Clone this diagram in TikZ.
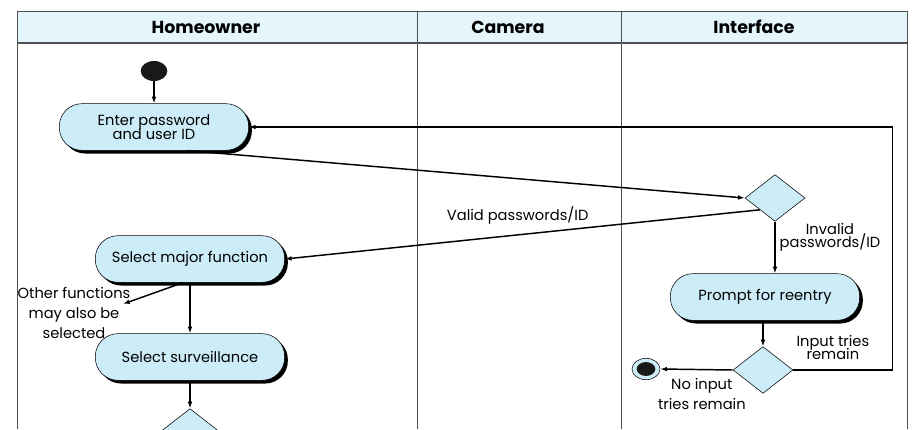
\documentclass[tikz,border=0pt]{standalone}
\usepackage{fontspec}
\setmainfont{Poppins}
\usetikzlibrary{positioning, arrows.meta, calc, shapes.geometric, shadows}

\definecolor{lanehead}{RGB}{228,245,251}
\definecolor{actfill}{RGB}{204,236,248}
\definecolor{laneline}{RGB}{80,80,80}

\begin{document}
\begin{tikzpicture}[
  x=0.75pt, y=-0.75pt,
  font=\fontsize{11}{13}\selectfont,
  activity/.style={draw=black, fill=actfill, rounded corners=17pt, align=center,
    minimum width=142pt, minimum height=35pt, inner sep=2pt,
    drop shadow={shadow xshift=2.4pt, shadow yshift=-2.4pt, fill=black, opacity=1}},
  decision/.style={diamond, draw=black, fill=actfill, inner sep=0pt,
    minimum width=45pt, minimum height=35pt},
  flow/.style={-{Latex[length=5pt, width=3.5pt]}, line width=1.1pt},
  lanetitle/.style={font=\bfseries\fontsize{13}{15}\selectfont},
  lbl/.style={align=center, inner sep=1pt}
]
\clip (0,0) rectangle (922,429);

% swimlanes
\fill[lanehead] (17,11) rectangle (907,43);
\draw[laneline] (17,11) -- (907,11);
\draw[laneline, line width=0.8pt] (17,43) -- (907,43);
\foreach \lx in {17,417,621,907}
  \draw[laneline] (\lx,11) -- (\lx,429);
\node[lanetitle] (home) at (206,27) {Homeowner};
\node[lanetitle] (cam) at (508,27) {Camera};
\node[lanetitle] (iface) at (754,27) {Interface};

% activities
\node[ellipse, fill=black!90, minimum width=20pt, minimum height=15pt, inner sep=0pt] (start) at (154,71) {};
\node[activity] (enter) at (154,127) {Enter password\\[-3pt]and user ID};
\node[activity] (select) at (190,259) {Select major function};
\node[activity] (surveil) at (190,357) {Select surveillance};
\node[activity] (prompt) at (765,297) {Prompt for reentry};

\node[decision] (d1) at (775,198) {};
\node[decision] (d2) at (763,370) {};
\node[decision] (d3) at (190,432) {};

\node[ellipse, draw=black, fill=actfill, minimum width=21pt, minimum height=16pt, inner sep=0pt] (finish) at (646,369) {};
\fill[black!90] (finish.center) ellipse [x radius=7pt, y radius=5.2pt];

\coordinate (otherend) at (123,304);
\node[lbl] (othertxt) at (74,313) {Other functions\\[2pt]may also be\\[2pt]selected};

% flows
\draw[flow] (start) -- (enter);
\draw[flow] (enter.-35) -- (d1.west);
\draw[flow] (d1.south west) -- (select.east)
  node[pos=0.51, above=4pt] {Valid passwords/ID};
\draw[flow] (select.-106) -- (otherend);
\draw[flow] (select) -- (surveil);
\draw[flow] (surveil) -- (d3);
\draw[flow] (d1.south) -- (d1.south |- prompt.north)
  node[pos=0.3, right=2pt, lbl] {Invalid\\[-3pt]passwords/ID};
\draw[flow] (prompt.south -| d2.north) -- (d2.north);
\draw[flow] (d2.west) -- (finish.east)
  node[midway, below=5pt, xshift=4pt, lbl] {No input\\[2pt]tries remain};
% back to password entry
\draw[flow] (d2.east) -- ++(99,0) node[pos=0.4, above=6pt, lbl] {Input tries\\[-3pt]remain}
  |- (enter.east);

\end{tikzpicture}
\end{document}
